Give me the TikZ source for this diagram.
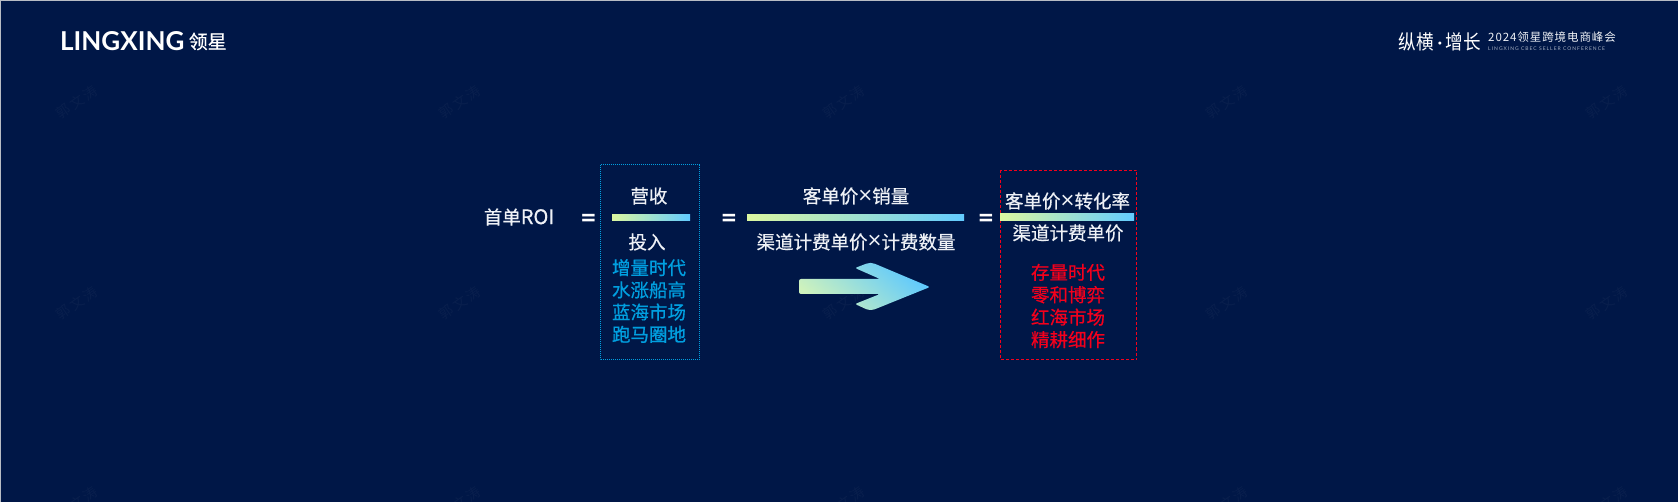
\documentclass[tikz,border=0pt]{standalone}
\usepackage{fontspec}
\setmainfont{Noto Sans CJK SC}
\newfontfamily\cjk{Noto Sans CJK SC}[FakeBold=0.5]
\newfontfamily\cjkheavy{Noto Sans CJK SC}[FakeBold=1.1]
\newfontfamily\cjkplain{Noto Sans CJK SC}
\newfontfamily\cjkspaced{Noto Sans CJK SC}[LetterSpace=8]
\newfontfamily\cjkslogan{Noto Sans CJK SC}[FakeStretch=0.88]
\newfontfamily\logo{Lato}
\newfontfamily\logospaced{Lato}[LetterSpace=20]
\newcommand{\tm}{{\fontsize{24}{22}\selectfont\logo ×}}
\definecolor{bgnavy}{HTML}{001747}
\definecolor{edgegray}{HTML}{B8BCC4}
\definecolor{barA}{HTML}{DCF7A0}
\definecolor{barB}{HTML}{62CBFF}
\definecolor{arrA}{HTML}{CFF2BC}
\definecolor{arrB}{HTML}{5CC8FF}
\definecolor{txtw}{HTML}{EEF1F6}
\definecolor{bluetx}{HTML}{009FE0}
\definecolor{redtx}{HTML}{F4001C}
\definecolor{wm}{HTML}{091F4D}
\tikzset{
 x=1pt,y=-1pt,
 lab/.style={inner sep=0pt,text=txtw,font=\fontsize{18.5}{22}\selectfont\cjk},
 bluelab/.style={inner sep=0pt,text=bluetx,font=\fontsize{18.5}{22.2}\selectfont\cjk,align=center},
 redlab/.style={inner sep=0pt,text=redtx,font=\fontsize{18.5}{22.4}\selectfont\cjk,align=center},
 eqs/.style={inner sep=0pt,text=white,font=\fontsize{28}{28}\selectfont\logo\bfseries},
 gbar/.style={left color=barA,right color=barB,draw=none},
 wmk/.style={inner sep=0pt,text=wm,rotate=35,font=\fontsize{14}{15}\selectfont\cjkplain},
}
\begin{document}
\begin{tikzpicture}
\fill[bgnavy] (0,0) rectangle (1678,502);
\useasboundingbox (0,0) rectangle (1678,502);
\fill[edgegray] (0,0) rectangle (1678,1);
\fill[edgegray] (0,0) rectangle (1,502);
\foreach \x in {77,460,844,1227,1607}{
 \foreach \y in {102,303,503}{
  \node[wmk] at (\x,\y) {郭\,文\,涛};
 }
}
\node[inner sep=0pt,anchor=west,text=white,font=\fontsize{26}{27}\selectfont\logo\bfseries] (brand) at (60,41.5) {LINGXING};
\node[inner sep=0pt,anchor=west,text=white,font=\fontsize{19}{20}\selectfont\cjk] (brandcn) at (188.5,41.5) {领星};
\node[inner sep=0pt,text=white,font=\fontsize{20}{22}\selectfont\cjkslogan] (slogan) at (1440,41.5) {纵横\,{\logo ·}\,增长};
\node[inner sep=0pt,anchor=west,text=txtw,font=\fontsize{11.5}{12}\selectfont\cjkspaced] (conf) at (1488,37) {2024领星跨境电商峰会};
\node[inner sep=0pt,anchor=west,text=txtw!70!bgnavy,font=\fontsize{5}{6}\selectfont\logospaced] (confen) at (1488,49) {LINGXING CBEC SELLER CONFERENCE};

\node[lab] (roi) at (519,217) {首单{\fontsize{20}{22}\selectfont ROI}};
\node[eqs] (eq1) at (588.5,220.5) {=};
\node[eqs] (eq2) at (729,220.5) {=};
\node[eqs] (eq3) at (986,220.5) {=};

\draw[bluetx,densely dotted,line width=1pt] (600,165) rectangle (699,360);
\draw[redtx,densely dashed,line width=1pt] (1000.5,170.5) rectangle (1136.5,360);

\node[lab] (ying) at (649,196) {营收};
\shade[gbar] (612,215) rectangle (690,221);
\node[lab] (tou) at (647,242) {投入};
\node[bluelab] (blue) at (649,301) {增量时代\\水涨船高\\蓝海市场\\{\cjkheavy 跑马圈地}};

\node[lab] (top2) at (856,196) {客单价\tm 销量};
\shade[gbar] (747,215) rectangle (964,221);
\node[lab] (bot2) at (856,242) {渠道计费单价\tm 计费数量};

\node[lab] (top3) at (1067.5,201) {客单价\tm 转化率};
\shade[gbar] (1000,214) rectangle (1134,221);
\node[lab] (bot3) at (1068,233) {渠道计费单价};
\node[redlab] (red) at (1068,306) {存量时代\\零和博弈\\红海市场\\精耕细作};

\shade[bottom color=arrA,top color=arrB,shading angle=-40,rounded corners=2pt]
 (799,279) -- (880,279) -- (855,268) -- (868,263) -- (873,263) -- (930,287) -- (873,310) -- (868,310) -- (855,304) -- (880,294) -- (799,294) -- cycle;
\end{tikzpicture}
\end{document}
